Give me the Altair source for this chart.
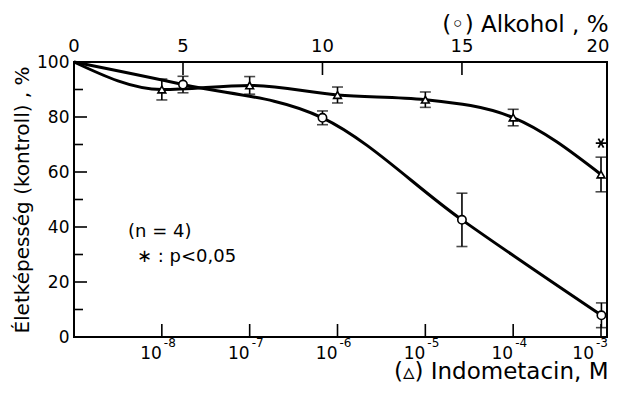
import math
import altair as alt
import pandas as pd

# ---- data ----
# Indometacin (triangles), bottom log axis; first point = control
indo_conc = [1e-9, 1e-8, 1e-7, 1e-6, 1e-5, 1e-4, 1e-3]
indo_val = [100, 90.0, 91.5, 88.0, 86.3, 79.8, 59.1]
indo_err = [0, 3.8, 3.2, 2.9, 2.8, 3.0, 6.3]

# Alkohol (circles), top axis; first point = control
alk_pct = [0, 5, 10, 15, 20]
alk_val = [100, 91.8, 79.7, 42.6, 7.9]
alk_err = [0, 3.0, 2.5, 9.7, 4.5]

# significance marker
sig_conc = [1e-3]
sig_val = [70.5]

y_major = [0, 20, 40, 60, 80, 100]
y_minor = [10, 30, 50, 70, 90]
bottom_ticks = [1e-8, 1e-7, 1e-6, 1e-5, 1e-4, 1e-3]
top_ticks = [5, 10, 15]
top_labels = [0, 5, 10, 15, 20]

W, H = 533, 275
FONT = "DejaVu Sans"

indo = pd.DataFrame({"c": indo_conc, "v": indo_val, "e": indo_err})
indo["lo"] = indo.v - indo.e
indo["hi"] = indo.v + indo.e
indo_e = indo[indo.e > 0]

alk = pd.DataFrame({"p": alk_pct, "v": alk_val, "e": alk_err})
alk["lo"] = alk.v - alk.e
alk["hi"] = alk.v + alk.e
alk_e = alk[alk.e > 0]

blab = pd.DataFrame({"c": bottom_ticks,
                     "base": ["10"] * len(bottom_ticks),
                     "exp": ["-%d" % round(-math.log10(c)) for c in bottom_ticks]})
blab_in = blab.iloc[:-1]
blab_end = blab.iloc[-1:]
tlab = pd.DataFrame({"p": top_labels, "t": [str(v) for v in top_labels]})
tlab_in = tlab.iloc[:-1]
tlab_end = tlab.iloc[-1:]

yscale = alt.Scale(domain=[0, 100], nice=False)
xlog = alt.Scale(type="log", domain=[1e-9, 1.17e-3], nice=False)
xtop = alt.Scale(domain=[0, 5, 20.2], range=[0, 109, W], nice=False, zero=False)

bottom_axis = alt.Axis(
    values=bottom_ticks, orient="bottom", ticks=False, tickSize=0, domain=False, grid=False,
    labels=False,
    title="(▵) Indometacin, M", titleFont=FONT, titleFontSize=23, titleFontWeight="normal",
    titleColor="black", titleX=534, titleY=41, titleAlign="right", titleBaseline="alphabetic",
)
top_axis = alt.Axis(
    values=top_labels, orient="top", ticks=False, tickSize=0, domain=False, grid=False,
    labels=False,
    title="(◦) Alkohol , %", titleFont=FONT, titleFontSize=23, titleFontWeight="normal",
    titleColor="black", titleX=534, titleY=-31, titleAlign="right", titleBaseline="alphabetic",
)
y_axis = alt.Axis(
    values=y_major, ticks=False, tickSize=0, domain=False, grid=False,
    labelFont=FONT, labelFontSize=17, labelPadding=5, labelColor="black",
    title="Életképesség (kontroll) , %", titleFont=FONT, titleFontSize=20,
    titleFontWeight="normal", titleColor="black", titleX=-52, titleY=H / 2,
    titleAngle=-90, titleAlign="center", titleBaseline="middle",
)

txt = dict(font=FONT, color="black", baseline="middle")

# ---------- bottom (Indometacin) layer ----------
bx = alt.X("c:Q", scale=xlog, axis=bottom_axis)
b_line = alt.Chart(indo).mark_line(color="black", strokeWidth=3, interpolate="monotone").encode(
    x=bx, y=alt.Y("v:Q", scale=yscale, axis=y_axis),
)
b_rule = alt.Chart(indo_e).mark_rule(color="black", strokeWidth=1.6).encode(
    x=bx, y="lo:Q", y2="hi:Q")
b_cap_lo = alt.Chart(indo_e).mark_tick(color="black", orient="horizontal", size=11, thickness=1.6).encode(
    x=bx, y="lo:Q")
b_cap_hi = alt.Chart(indo_e).mark_tick(color="black", orient="horizontal", size=11, thickness=1.6).encode(
    x=bx, y="hi:Q")
b_pts = alt.Chart(indo_e).mark_point(shape="triangle-up", filled=True, fill="white", stroke="black",
                                     strokeWidth=1.6, size=60, opacity=1).encode(
    x=bx, y="v:Q")
b_sig = alt.Chart(pd.DataFrame({"c": sig_conc, "v": sig_val})).mark_point(
    shape="M-1,0L1,0M-0.5,-0.866L0.5,0.866M-0.5,0.866L0.5,-0.866",
    filled=False, stroke="black", strokeWidth=1.8, size=110, opacity=1).encode(
    x=bx, y="v:Q")
b_ticks = alt.Chart(pd.DataFrame({"c": bottom_ticks})).mark_rule(color="black", strokeWidth=1.6).encode(
    x=bx, y=alt.value(H), y2=alt.value(H - 13))
b_lab_base = alt.Chart(blab_in).mark_text(fontSize=17, align="right", dx=0, **txt).encode(
    x=bx, y=alt.value(H + 17), text="base:N")
b_lab_exp = alt.Chart(blab_in).mark_text(fontSize=12, align="left", dx=2, **txt).encode(
    x=bx, y=alt.value(H + 6), text="exp:N")
b_lab_base_end = alt.Chart(blab_end).mark_text(fontSize=17, align="right", dx=-7, **txt).encode(
    x=bx, y=alt.value(H + 17), text="base:N")
b_lab_exp_end = alt.Chart(blab_end).mark_text(fontSize=12, align="left", dx=-5, **txt).encode(
    x=bx, y=alt.value(H + 6), text="exp:N")
y_ticks_major = alt.Chart(pd.DataFrame({"v": y_major})).mark_rule(color="black", strokeWidth=1.6).encode(
    y=alt.Y("v:Q"), x=alt.value(0), x2=alt.value(13))
y_ticks_minor = alt.Chart(pd.DataFrame({"v": y_minor})).mark_rule(color="black", strokeWidth=1.6).encode(
    y=alt.Y("v:Q"), x=alt.value(0), x2=alt.value(9))
note1 = alt.Chart(pd.DataFrame({"t": ["(n = 4)"]})).mark_text(fontSize=18, align="left", **txt).encode(
    text="t:N", x=alt.value(54), y=alt.value(170))
note2 = alt.Chart(pd.DataFrame({"t": ["∗ : p<0,05"]})).mark_text(fontSize=18, align="left", **txt).encode(
    text="t:N", x=alt.value(63), y=alt.value(195))

bottom = alt.layer(b_line, b_rule, b_cap_lo, b_cap_hi, b_pts, b_sig, b_ticks,
                   b_lab_base, b_lab_exp, b_lab_base_end, b_lab_exp_end,
                   y_ticks_major, y_ticks_minor, note1, note2)

# ---------- top (Alkohol) layer ----------
tx = alt.X("p:Q", scale=xtop, axis=top_axis)
t_line = alt.Chart(alk).mark_line(color="black", strokeWidth=3, interpolate="monotone").encode(
    x=tx, y=alt.Y("v:Q"))
t_rule = alt.Chart(alk_e).mark_rule(color="black", strokeWidth=1.6).encode(
    x=tx, y="lo:Q", y2="hi:Q")
t_cap_lo = alt.Chart(alk_e).mark_tick(color="black", orient="horizontal", size=11, thickness=1.6).encode(
    x=tx, y="lo:Q")
t_cap_hi = alt.Chart(alk_e).mark_tick(color="black", orient="horizontal", size=11, thickness=1.6).encode(
    x=tx, y="hi:Q")
t_pts = alt.Chart(alk_e).mark_point(shape="circle", filled=True, fill="white", stroke="black",
                                    strokeWidth=1.6, size=70, opacity=1).encode(
    x=tx, y="v:Q")
t_ticks = alt.Chart(pd.DataFrame({"p": top_ticks})).mark_rule(color="black", strokeWidth=1.6).encode(
    x=tx, y=alt.value(0), y2=alt.value(13))
t_lab = alt.Chart(tlab_in).mark_text(fontSize=18, align="center", **txt).encode(
    x=tx, y=alt.value(-15), text="t:N")
t_lab_end = alt.Chart(tlab_end).mark_text(fontSize=18, align="right", dx=8, **txt).encode(
    x=tx, y=alt.value(-15), text="t:N")

top = alt.layer(t_line, t_rule, t_cap_lo, t_cap_hi, t_pts, t_ticks, t_lab, t_lab_end)

chart = (
    alt.layer(bottom, top)
    .resolve_scale(x="independent")
    .properties(width=W, height=H, autosize=alt.AutoSizeParams(type="none"),
                padding={"left": 66, "top": 54, "right": 2, "bottom": 46},
                background="white")
    .configure_view(stroke="black", strokeWidth=2)
)

chart.save("out.html", embed_options={"renderer": "svg", "actions": False})
